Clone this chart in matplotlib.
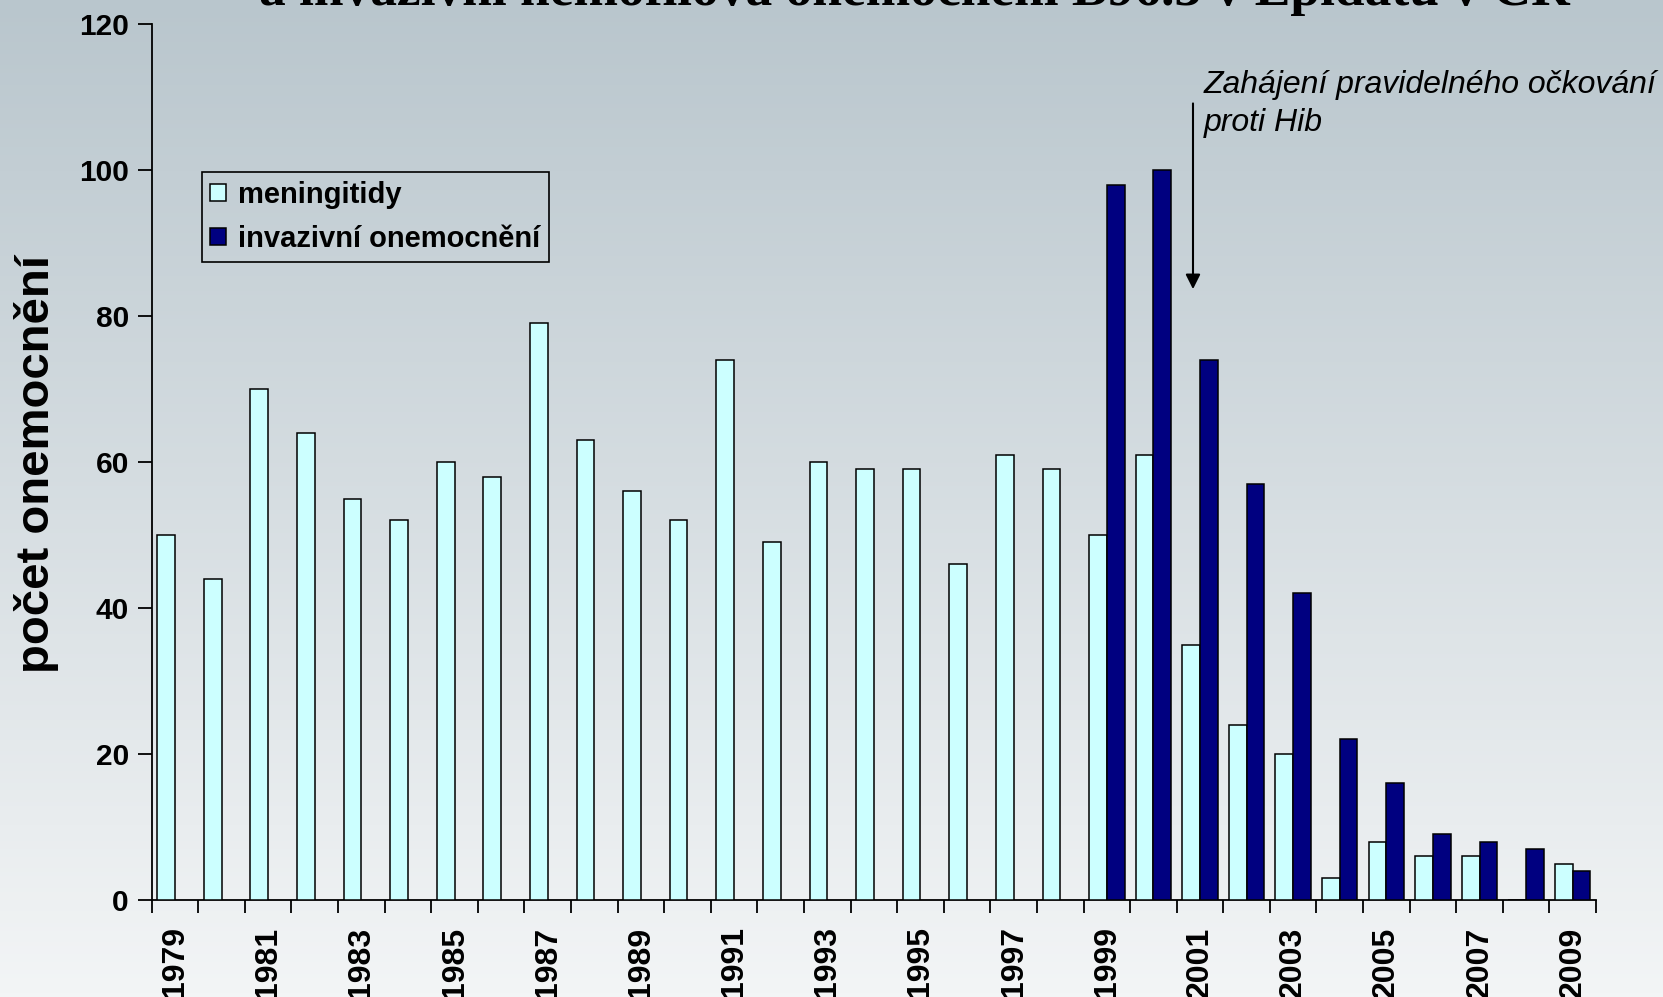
import numpy as np
import matplotlib
matplotlib.use("Agg")
import matplotlib.pyplot as plt
from matplotlib.patches import Patch

years = list(range(1979, 2010))
meningitidy = [50, 44, 70, 64, 55, 52, 60, 58, 79, 63, 56, 52, 74, 49, 60, 59, 59, 46,
               61, 59, 50, 61, 35, 24, 20, 3, 8, 6, 6, 0, 5]
invazivni = [0] * 20 + [98, 100, 74, 57, 42, 22, 16, 9, 8, 7, 4]
yticks = [0, 20, 40, 60, 80, 100, 120]
series_names = ["meningitidy", "invazivní onemocnění"]
title = "a invazivní hemofilová onemocnění B96.3 v Epidatu v ČR"
ylabel = "počet onemocnění"
note_lines = ["Zahájení pravidelného očkování", "proti Hib"]

W, H = 1663, 997
fig = plt.figure(figsize=(W / 100, H / 100), dpi=100)

# gradient background
bg = fig.add_axes([0, 0, 1, 1], zorder=-10)
top = np.array([185, 198, 205]) / 255
bot = np.array([243, 245, 246]) / 255
t = np.linspace(0, 1, 256)[:, None]
grad = top[None, :] * (1 - t) + bot[None, :] * t
bg.imshow(grad[:, None, :], aspect="auto", extent=[0, 1, 0, 1])
bg.axis("off")

ax = fig.add_axes([151.7 / W, 1 - 900 / H, (1596 - 151.7) / W, (900 - 24) / H])
ax.patch.set_alpha(0)

x = np.arange(len(years))
w = 0.38
ax.bar(x - w / 2, meningitidy, w, color="#ccffff", edgecolor="black", linewidth=1.1, zorder=3)
inv_x = [xi for xi, v in zip(x, invazivni) if v > 0]
inv_v = [v for v in invazivni if v > 0]
ax.bar(np.array(inv_x) + w / 2, inv_v, w, color="#000080", edgecolor="black", linewidth=1.1, zorder=3)

ax.set_xlim(-0.5, len(years) - 0.5)
ax.set_ylim(0, 120)
for s in ["top", "right"]:
    ax.spines[s].set_visible(False)
for s in ["left", "bottom"]:
    ax.spines[s].set_linewidth(1.3)

ax.set_yticks(yticks)
ax.set_yticklabels([str(v) for v in yticks], fontfamily="Liberation Sans", fontweight="bold", fontsize=21.5)
ax.tick_params(axis="y", direction="out", length=10, width=1.3, pad=6.5)

ax.set_xticks(np.arange(len(years) + 1) - 0.5)
ax.set_xticklabels([])
ax.tick_params(axis="x", which="major", direction="out", length=9, width=1.3)
lab_pos = [i for i, y in enumerate(years) if y % 2 == 1]
ax.set_xticks(lab_pos, minor=True)
ax.set_xticklabels([str(years[i]) for i in lab_pos], minor=True, rotation=90,
                   fontfamily="Liberation Sans", fontweight="bold", fontsize=23)
ax.tick_params(axis="x", which="minor", length=0, pad=19)

# legend
handles = [Patch(facecolor="#ccffff", edgecolor="black", linewidth=1.1),
           Patch(facecolor="#000080", edgecolor="black", linewidth=1.1)]
leg = fig.legend(handles, series_names, loc="upper left",
                 bbox_to_anchor=(201.5 / W, 1 - 172 / H),
                 prop={"family": "Liberation Sans", "weight": "bold", "size": 21},
                 frameon=True, fancybox=False,
                 handlelength=0.55, handleheight=0.55, handletextpad=0.4,
                 borderpad=0.3, labelspacing=0.55, borderaxespad=0)
frame = leg.get_frame()
frame.set_facecolor("none")
frame.set_edgecolor("black")
frame.set_alpha(None)
frame.set_linewidth(1.2)

# annotation
ax.annotate("", xy=(21.85, 83.3), xytext=(21.85, 109.5),
            arrowprops=dict(arrowstyle="-|>", color="black", lw=1.5, mutation_scale=22),
            annotation_clip=False)
ax.text(22.08, 110.5, note_lines[0], fontfamily="Liberation Sans", style="italic",
        fontsize=23, va="baseline", ha="left", clip_on=False)
ax.text(22.08, 105.3, note_lines[1], fontfamily="Liberation Sans", style="italic",
        fontsize=23, va="baseline", ha="left", clip_on=False)

# y label
fig.text(37 / W, 1 - 464 / H, ylabel, rotation=90, ha="center", va="center",
         fontfamily="Liberation Sans", fontweight="bold", fontsize=34)

# title (cut off at the top, as in the reference)
fig.text(914 / W, 1 - 5 / H, title, ha="center", va="baseline",
         fontfamily="Liberation Serif", fontweight="bold", fontsize=38.5)

fig.savefig("out.png", dpi=100)
